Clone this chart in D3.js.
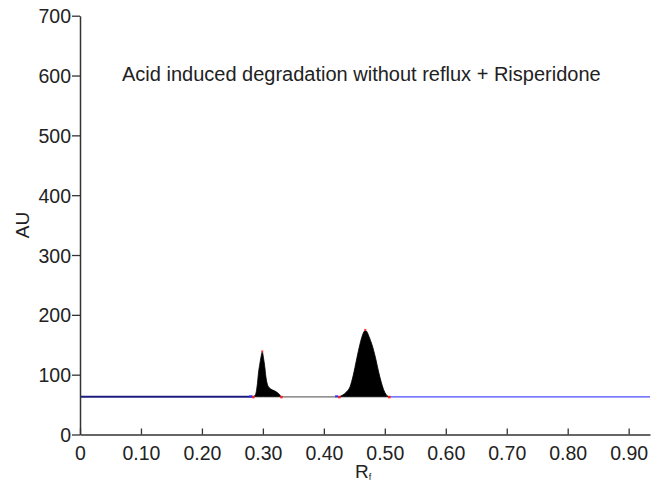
<!DOCTYPE html>
<html>
<head>
<meta charset="utf-8">
<script src="https://cdn.jsdelivr.net/npm/d3@7"></script>
<style>
  body { margin: 0; background: #fff; }
  svg { font-family: "Liberation Sans", Arial, sans-serif; }
</style>
</head>
<body>
<svg id="chart" width="651" height="483"></svg>
<script>
// densitogram trace (Rf vs AU)
const rf = [0, 0.284, 0.288, 0.291, 0.293, 0.295, 0.297, 0.299, 0.301, 0.303, 0.305, 0.308, 0.313, 0.319, 0.326, 0.330,
  0.425, 0.431, 0.437, 0.443, 0.448, 0.454, 0.459, 0.463, 0.466, 0.468, 0.471, 0.474, 0.479, 0.485, 0.490, 0.494, 0.498, 0.502, 0.507, 0.935];
const au = [63, 63, 67, 85, 105, 118, 130, 138, 128, 114, 96, 82, 76, 73, 68, 63,
  63, 66, 71, 80, 98, 127, 150, 165, 172, 174, 171, 164, 150, 127, 104, 88, 75, 67, 63, 63];
const baseline = 63;

// integrated peaks [start, apex, end]
const peaks = [[0.284, 0.299, 0.330], [0.425, 0.468, 0.507]];

// baseline segments
const segStart = [0, 0.330, 0.507];
const segEnd = [0.284, 0.425, 0.935];
const segColor = ["#1c1c80", "#6e6e6e", "#4d4dff"];

const yTicks = [0, 100, 200, 300, 400, 500, 600, 700];
const xTicks = [0, 0.1, 0.2, 0.3, 0.4, 0.5, 0.6, 0.7, 0.8, 0.9];

const svg = d3.select("#chart");

const x = d3.scaleLinear().domain([0, 0.935]).range([80, 650]);
const y = d3.scaleLinear().domain([0, 700]).range([434.5, 15.7]);

const pts = rf.map((d, i) => ({ rf: d, au: au[i] }));

// filled peaks
peaks.forEach(p => {
  const sub = pts.filter(d => d.rf >= p[0] && d.rf <= p[2]);
  svg.append("path")
    .datum(sub)
    .attr("fill", "#000")
    .attr("stroke", "#000")
    .attr("stroke-width", 0.8)
    .attr("d", d3.area().curve(d3.curveMonotoneX).x(d => x(d.rf)).y0(y(baseline)).y1(d => y(d.au)));
});

// baseline segments
segStart.forEach((s, i) => {
  svg.append("line")
    .attr("x1", x(s)).attr("x2", x(segEnd[i]))
    .attr("y1", y(baseline)).attr("y2", y(baseline))
    .attr("stroke", segColor[i])
    .attr("stroke-width", i === 0 ? 2 : 1.2);
});

// peak markers
peaks.forEach(p => {
  [p[0], p[2]].forEach(v => {
    svg.append("rect").attr("x", x(v) - 1).attr("y", y(baseline) - 1)
      .attr("width", 2.5).attr("height", 2.5).attr("fill", "#ff2020");
  });
  const top = pts.find(d => d.rf === p[1]);
  svg.append("rect").attr("x", x(p[1]) - 1).attr("y", y(top.au) - 1.5)
    .attr("width", 2).attr("height", 2).attr("fill", "#ff3030");
  svg.append("rect").attr("x", x(p[0]) - 4).attr("y", y(baseline) - 1.5)
    .attr("width", 3).attr("height", 2).attr("fill", "#3030ff");
});

// y axis
const gy = svg.append("g")
  .attr("transform", "translate(80,0)")
  .call(d3.axisLeft(y).tickValues(yTicks).tickSize(8).tickSizeOuter(0).tickPadding(1));
gy.selectAll("text").attr("font-size", 19.5).attr("fill", "#222").attr("dy", "0.36em")
  .attr("font-family", "Liberation Sans, Arial, sans-serif");

// x axis
const gx = svg.append("g")
  .attr("transform", `translate(0,${y(0)})`)
  .call(d3.axisBottom(x).tickValues(xTicks).tickSize(-6).tickSizeOuter(0)
    .tickFormat(d => d === 0 ? "0" : d3.format(".2f")(d)));
gx.selectAll("text").attr("font-size", 19.5).attr("fill", "#222").attr("y", 25).attr("dy", 0)
  .attr("font-family", "Liberation Sans, Arial, sans-serif");

svg.selectAll(".domain").attr("stroke", "#333").attr("stroke-width", 1.5);
svg.selectAll(".tick line").attr("stroke", "#333").attr("stroke-width", 1.3);

// title
svg.append("text")
  .attr("x", 122).attr("y", 81)
  .attr("font-size", 20).attr("fill", "#222")
  .text("Acid induced degradation without reflux + Risperidone");

// axis labels
svg.append("text")
  .attr("transform", "translate(29,225) rotate(-90)")
  .attr("text-anchor", "middle")
  .attr("font-size", 19).attr("fill", "#222")
  .text("AU");

const rl = svg.append("text")
  .attr("x", 355).attr("y", 478)
  .attr("font-size", 19).attr("fill", "#222");
rl.append("tspan").text("R");
rl.append("tspan").attr("font-size", 9).attr("dy", 2).text("f");
</script>
</body>
</html>
